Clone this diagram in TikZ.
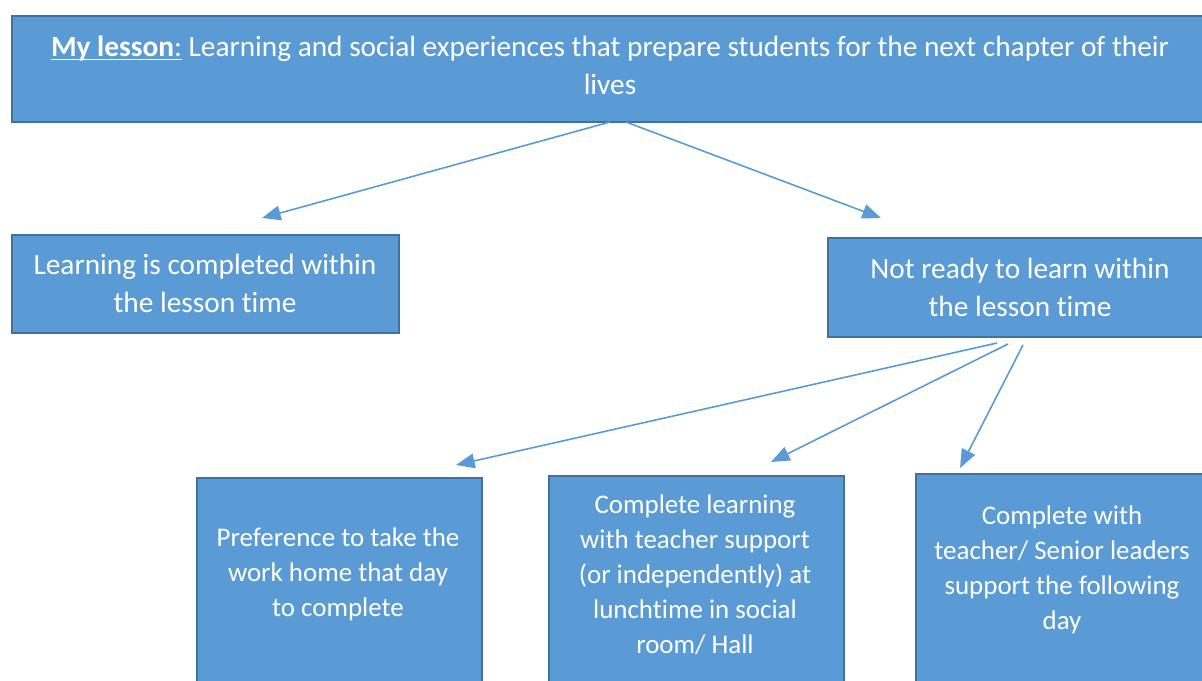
\documentclass[tikz,border=0pt]{standalone}
\usepackage{fontspec}
\setmainfont{Carlito}[Ligatures={NoCommon}]
\usetikzlibrary{arrows.meta}
\definecolor{boxfill}{HTML}{5B9BD5}
\definecolor{boxline}{HTML}{41719C}
\newcommand{\myul}[1]{\setbox0\hbox{#1}\leavevmode\rlap{\raisebox{-3.2pt}{\rule{\wd0}{1.3pt}}}\box0\relax}
\begin{document}
\begin{tikzpicture}[x=0.75pt,y=-0.75pt,
  box/.style={draw=boxline, line width=1.5pt, fill=boxfill, anchor=north west, inner sep=0pt},
  txt/.style={text=white, align=center, inner sep=0pt, font=\fontsize{22pt}{28.5pt}\selectfont},
  txtb/.style={text=white, align=center, inner sep=0pt, font=\fontsize{20.2pt}{26.25pt}\selectfont},
  arr/.style={draw=boxfill, line width=1.2pt, -{Triangle[length=14pt,width=11pt]}}]
\useasboundingbox (0,0) rectangle (1202,681);
\clip (0,0) rectangle (1202,681);
% boxes
\node[box, minimum width=899.25pt, minimum height=79.5pt] (top) at (11,15) {};
\node[box, minimum width=290.25pt, minimum height=73.5pt] (left) at (11,234) {};
\node[box, minimum width=289.5pt, minimum height=74.25pt] (right) at (827,237) {};
\node[box, minimum width=213.75pt, minimum height=167.25pt] (b1) at (196,477) {};
\node[box, minimum width=221.25pt, minimum height=168.75pt] (b2) at (548,475) {};
\node[box, minimum width=220.5pt, minimum height=170.25pt] (b3) at (915,473) {};
% texts
\node[txt] (topt) at (610,65) {\myul{\textbf{My lesson}:} Learning and social experiences that prepare students for the next chapter of their\\ lives};
\node[txt] (leftt) at (205,283) {Learning is completed within\\ the lesson time};
\node[txt] (rightt) at (1020,287) {Not ready to learn within\\ the lesson time};
\node[txtb] (b1t) at (338,574) {Preference to take the\\ work home that day\\ to complete};
\node[txtb] (b2t) at (695,575) {Complete learning\\ with teacher support\\ (or independently) at\\ lunchtime in social\\ room/ Hall};
\node[txtb] (b3t) at (1062,570) {Complete with\\ teacher/ Senior leaders\\ support the following\\ day};
% arrow coordinates
\coordinate (s1) at (610,122); \coordinate (e1) at (262,218);
\coordinate (s2) at (626,122); \coordinate (e2) at (881,218);
\coordinate (s3) at (997,343); \coordinate (e3) at (456,465);
\coordinate (s4) at (1008,344); \coordinate (e4) at (771,462);
\coordinate (s5) at (1023,345); \coordinate (e5) at (960,468);
\draw[arr] (s1) -- (e1);
\draw[arr] (s2) -- (e2);
\draw[arr] (s3) -- (e3);
\draw[arr] (s4) -- (e4);
\draw[arr] (s5) -- (e5);
\end{tikzpicture}
\end{document}
